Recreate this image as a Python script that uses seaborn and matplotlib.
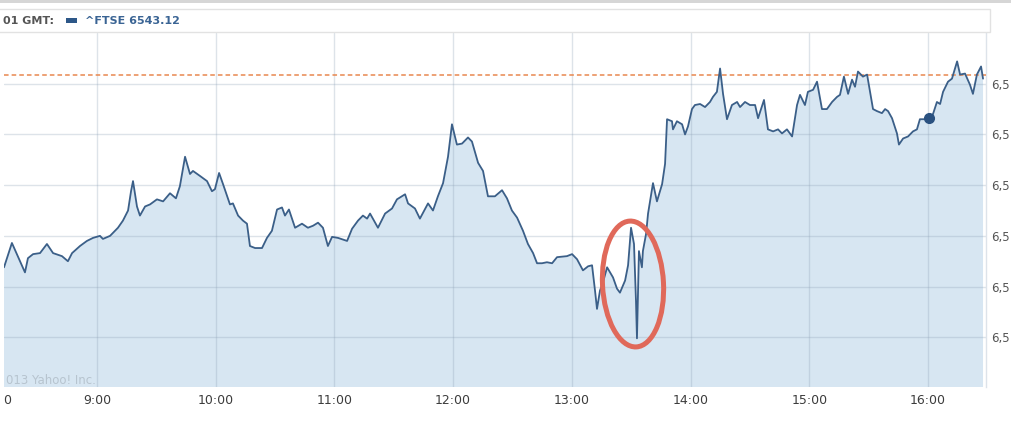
import numpy as np
import pandas as pd
import matplotlib
matplotlib.use("Agg")
import matplotlib.pyplot as plt
import seaborn as sns
from matplotlib.patches import Ellipse, Rectangle

# ---- data (minutes after 08:00, index level) ----
minutes = [13.0, 17.0, 23.6, 25.1, 27.7, 31.2, 34.7, 37.8, 42.3, 45.3, 47.4, 51.4, 54.9, 58.0,
           61.5, 63.0, 66.6, 70.6, 73.1, 75.7, 77.2, 78.2, 80.2, 81.7, 84.3, 86.8, 90.3, 93.4,
           96.9, 99.9, 101.9, 104.5, 107.0, 108.5, 112.1, 115.6, 118.1, 119.6, 121.7, 123.7,
           127.2, 128.7, 131.3, 133.8, 135.8, 137.3, 139.9, 143.4, 145.9, 148.4, 151.0, 153.5,
           155.0, 157.0, 160.1, 163.6, 166.6, 169.2, 171.7, 174.2, 176.7, 178.8, 181.8, 186.4,
           188.9, 191.9, 194.4, 196.5, 198.0, 202.0, 205.6, 209.1, 211.6, 215.7, 217.2, 220.7,
           223.2, 227.3, 229.8, 232.3, 234.9, 237.4, 239.4, 241.9, 244.5, 247.5, 249.5, 252.6,
           255.1, 257.6, 261.1, 264.7, 267.2, 269.7, 272.3, 275.3, 277.8, 280.4, 282.4, 284.9,
           287.4, 290.0, 292.5, 297.5, 300.1, 302.6, 305.6, 308.2, 310.2, 311.7, 312.7, 314.2,
           315.7, 317.8, 319.3, 320.8, 322.8, 324.3, 326.9, 328.4, 329.9, 331.4, 332.4, 332.9,
           333.9, 335.4, 335.9, 337.5, 338.5, 339.5, 341.0, 343.0, 345.6, 347.1, 348.1, 350.6,
           351.1, 353.1, 355.7, 357.2, 358.7, 360.7, 362.2, 364.8, 367.3, 369.8, 371.3, 373.3,
           374.9, 376.4, 378.4, 380.9, 383.5, 385.0, 387.5, 390.0, 392.6, 394.1, 397.1, 399.1,
           401.7, 404.2, 406.2, 408.7, 411.3, 413.8, 415.3, 417.8, 419.3, 421.9, 423.9, 426.4,
           428.9, 431.5, 434.0, 435.5, 437.5, 439.6, 441.6, 443.1, 444.6, 447.1, 449.2, 450.7,
           452.2, 454.2, 456.7, 458.3, 459.8, 461.8, 464.3, 465.3, 467.4, 469.9, 472.4, 474.4,
           475.9, 478.5, 480.5, 482.5, 484.5, 486.1, 487.6, 490.1, 492.1, 494.7, 496.2, 498.7,
           501.2, 502.7, 504.7, 506.8, 507.8]
prices = [6526.9, 6529.3, 6526.4, 6527.8, 6528.2, 6528.3, 6529.2, 6528.3, 6528.0, 6527.5, 6528.3,
          6529.0, 6529.5, 6529.8, 6530.0, 6529.7, 6530.0, 6530.8, 6531.5, 6532.5, 6534.4, 6535.4,
          6532.9, 6532.0, 6532.9, 6533.1, 6533.6, 6533.4, 6534.2, 6533.7, 6534.9, 6537.8, 6536.1,
          6536.4, 6535.9, 6535.4, 6534.4, 6534.6, 6536.2, 6535.1, 6533.1, 6533.2, 6532.0, 6531.5,
          6531.2, 6529.0, 6528.8, 6528.8, 6529.8, 6530.5, 6532.6, 6532.8, 6532.0, 6532.6, 6530.8,
          6531.2, 6530.8, 6531.0, 6531.3, 6530.8, 6529.0, 6529.9, 6529.8, 6529.5, 6530.7, 6531.5,
          6532.0, 6531.7, 6532.2, 6530.8, 6532.2, 6532.7, 6533.6, 6534.1, 6533.2, 6532.7, 6531.7,
          6533.2, 6532.5, 6533.9, 6535.2, 6537.8, 6541.0, 6539.0, 6539.1, 6539.7, 6539.3, 6537.2,
          6536.4, 6533.9, 6533.9, 6534.5, 6533.7, 6532.5, 6531.8, 6530.5, 6529.2, 6528.3, 6527.3,
          6527.3, 6527.4, 6527.3, 6527.9, 6528.0, 6528.2, 6527.7, 6526.6, 6527.0, 6527.1, 6524.6,
          6522.8, 6524.6, 6525.4, 6526.9, 6526.4, 6525.9, 6524.8, 6524.4, 6525.6, 6527.1, 6530.8,
          6529.2, 6523.6, 6519.9, 6528.5, 6526.9, 6528.5, 6530.2, 6532.2, 6533.4, 6535.2, 6533.4,
          6535.1, 6537.1, 6541.5, 6541.3, 6540.5, 6541.3, 6541.0, 6540.0, 6540.8, 6542.5, 6542.9,
          6543.0, 6542.7, 6543.2, 6543.7, 6544.2, 6546.5, 6544.0, 6541.5, 6542.9, 6543.2, 6542.7,
          6543.2, 6542.9, 6542.9, 6541.6, 6543.4, 6540.5, 6540.3, 6540.5, 6540.1, 6540.5, 6539.8,
          6542.9, 6543.9, 6542.9, 6544.2, 6544.4, 6545.2, 6542.5, 6542.5, 6543.2, 6543.7, 6543.9,
          6545.7, 6544.0, 6545.4, 6544.7, 6546.2, 6545.7, 6545.9, 6544.2, 6542.5, 6542.3, 6542.1,
          6542.5, 6542.3, 6541.6, 6540.1, 6539.0, 6539.6, 6539.8, 6540.3, 6540.5, 6541.5, 6541.5,
          6541.6, 6542.0, 6543.2, 6543.0, 6544.2, 6545.2, 6545.5, 6547.2, 6545.9, 6546.0, 6544.9,
          6544.0, 6545.9, 6546.7, 6545.5]

tick_hours = [9, 10, 11, 12, 13, 14, 15, 16]
x_tick_labels = ["9:00", "10:00", "11:00", "12:00", "13:00", "14:00", "15:00", "16:00"]
y_grid_values = [6520, 6525, 6530, 6535, 6540, 6545]
y_tick_labels = ["6,5", "6,5", "6,5", "6,5", "6,5", "6,5"]
prev_close = 6545.9
marker_minute = 480.5
header_left = "01 GMT:"
header_series = "^FTSE 6543.12"
copyright_text = "013 Yahoo! Inc."
left_cut_label = "0"

# ---- styling ----
LINE = "#3b5f88"
FILL = "#d7e6f2"
GRID = "#8fa3b8"
DASH = "#e8874f"

sns.set_theme(style="white")
plt.rcParams["font.family"] = ["DejaVu Sans"]

W, H = 1012, 422
fig = plt.figure(figsize=(W / 100, H / 100), dpi=100)
fig.patch.set_facecolor("white")

ax = fig.add_axes([4 / W, (H - 387) / H, 982 / W, 354 / H])
ax.set_facecolor("white")

base = pd.Timestamp("2013-01-02 08:00")
df = pd.DataFrame({"time": base + pd.to_timedelta(minutes, unit="m"), "price": prices})

ax.fill_between(df["time"], df["price"], 6500, color=FILL, lw=0, zorder=1)
sns.lineplot(data=df, x="time", y="price", ax=ax, color=LINE, lw=1.3, zorder=3)

ax.axhline(prev_close, color=DASH, ls=(0, (3, 2)), lw=1.1, zorder=2.6)

mk = df.iloc[int(np.argmin(np.abs(np.array(minutes) - marker_minute)))]
ax.plot([mk["time"]], [mk["price"]], "o", ms=7, color="#2a5180", zorder=4)

ax.set_xlim(df["time"].iloc[0], base + pd.Timedelta(minutes=509.3))
ax.set_ylim(6515.1, 6550)

ax.set_xticks([base + pd.Timedelta(hours=h - 8) for h in tick_hours])
ax.set_xticklabels(x_tick_labels)
ax.set_yticks(y_grid_values)
ax.yaxis.tick_right()
ax.set_yticklabels(y_tick_labels)
ax.set_xlabel("")
ax.set_ylabel("")
ax.set_axisbelow("line")
ax.grid(True, color=GRID, alpha=0.3, lw=1)
ax.tick_params(axis="x", length=0, pad=5, labelsize=9, labelcolor="#3c3c3c")
ax.tick_params(axis="y", length=0, pad=4, labelsize=8.5, labelcolor="#555555")
for s in ["left", "bottom", "top"]:
    ax.spines[s].set_visible(False)
ax.spines["right"].set_color("#dde3ea")
ax.spines["right"].set_linewidth(1)

ax.text(0.002, 7 / 354, copyright_text, transform=ax.transAxes, color="#b7c4cf",
        fontsize=8.5, va="center", ha="left", zorder=5)

# red ellipse highlighting the spike
ell = Ellipse((633 / 100, (H - 284) / 100), 0.61, 1.26, angle=3,
              transform=fig.dpi_scale_trans, fill=False, ec="#e0695a", lw=3.6, zorder=10)
fig.add_artist(ell)

# header band and legend box
fig.add_artist(Rectangle((0, (H - 3) / H), 1, 3 / H, transform=fig.transFigure,
                         color="#d6d6d6", lw=0))
fig.add_artist(Rectangle((-0.01, (H - 32) / H), (990 / W) + 0.01, 23 / H,
                         transform=fig.transFigure, fc="white", ec="#e2e2e2", lw=1))
fig.text(3 / W, 1 - 21 / H, header_left, fontsize=8, fontweight="bold", color="#555555",
         va="center", ha="left")
fig.add_artist(Rectangle((66 / W, (H - 23) / H), 11 / W, 5 / H, transform=fig.transFigure,
                         color="#2d5788", lw=0))
fig.text(85 / W, 1 - 21 / H, header_series, fontsize=8, fontweight="bold", color="#3a6494",
         va="center", ha="left")
fig.text(3 / W, 1 - 400 / H, left_cut_label, fontsize=9, color="#3c3c3c", va="center", ha="left")

fig.savefig("out.png", dpi=100, facecolor="white")
